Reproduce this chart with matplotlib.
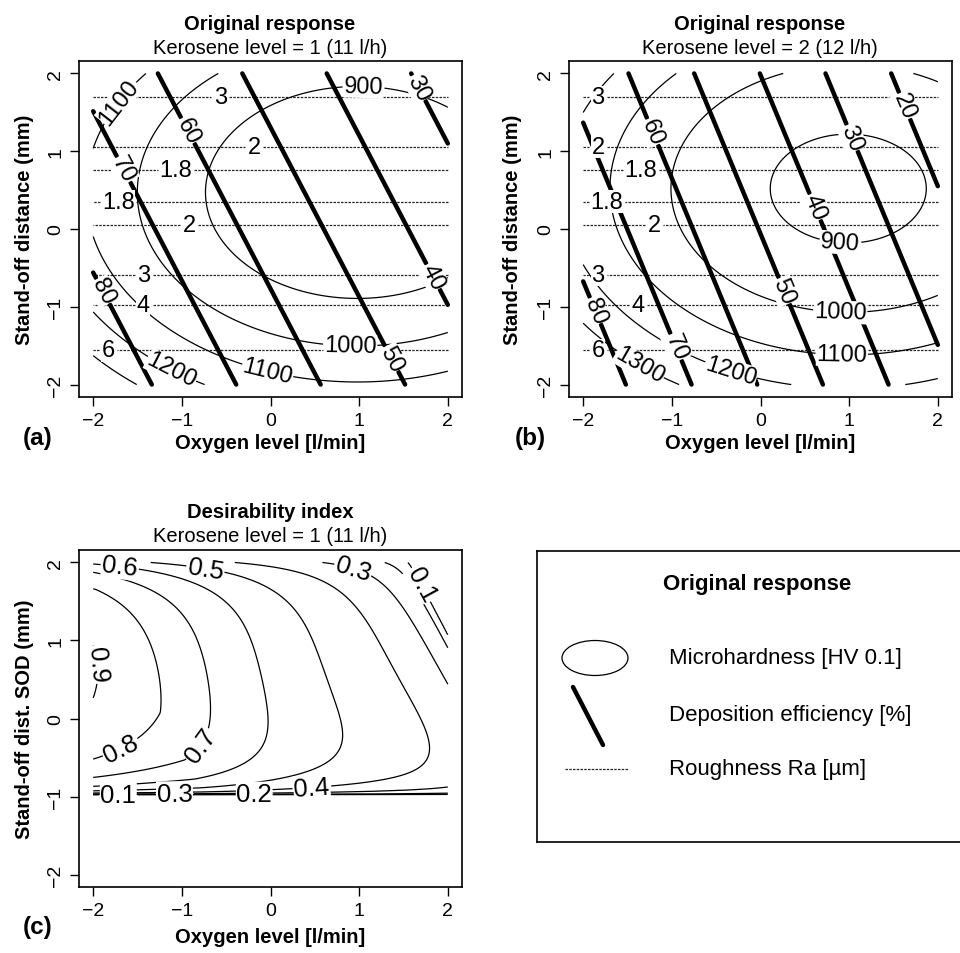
import numpy as np
import matplotlib.pyplot as plt
from matplotlib.patches import Ellipse

plt.rcParams['font.family'] = ['Liberation Sans', 'DejaVu Sans']

# fitted response surfaces, coded units
# microhardness [HV 0.1]: h0 + kx*(x - xc)^2 + ky*(y - yc)^2
hard_k1 = [809.0, 31.0, 49.0, 0.98, 0.47]
hard_k2 = [876.0, 31.0, 49.0, 0.99, 0.52]
# deposition efficiency [%]: a + bx*x + by*y
depo_k1 = [56.3, -10.5, -4.82]
depo_k2 = [49.7, -13.5, -4.90]
# roughness Ra [um]: r0 + ky*(y - yc)^2  (oxygen has no effect)
rough_k = [1.76, 0.95, 0.555]

hard_levels = [900, 1000, 1100, 1200, 1300]
depo_levels = [20, 30, 40, 50, 60, 70, 80]
rough_levels = [1.8, 2, 3, 4, 6]
des_levels = [0.1, 0.2, 0.3, 0.4, 0.5, 0.6, 0.7, 0.8, 0.9]

# desirability limits: [worst, best, exponent]
des_hard = [645.0, 1235.0, 1.0]
des_depo = [30.0, 69.0, 1.0]
des_rough = [3.98, 1.76, 0.7]

ticks = [-2, -1, 0, 1, 2]

# contour label spots (level, x, y)
lab_a_hard = [(1100, -1.71, 1.64), (900, 1.05, 1.81), (1000, 0.9, -1.49),
              (1100, -0.03, -1.83), (1200, -1.1, -1.79)]
lab_a_depo = [(30, 1.65, 1.81), (40, 1.8, -0.63), (50, 1.37, -1.66),
              (60, -0.95, 1.25), (70, -1.61, 0.78), (80, -1.9, -0.8)]
lab_a_rough = [(3, -0.56, 1.68), (2, -0.18, 1.02), (1.8, -1.07, 0.74),
               (1.8, -1.72, 0.33), (2, -0.91, 0.01), (3, -1.44, -0.59),
               (4, -1.44, -1.02), (6, -1.84, -1.57)]
lab_b_hard = [(900, 0.9, -0.16), (1000, 0.9, -1.08), (1100, 0.92, -1.64),
              (1200, -0.34, -1.87), (1300, -1.39, -1.79)]
lab_b_depo = [(20, 1.62, 1.59), (30, 1.02, 1.17), (40, 0.56, 0.27),
              (50, 0.26, -0.8), (60, -1.24, 1.25), (70, -1.0, -1.53),
              (80, -1.9, -1.06)]
lab_b_rough = [(3, -1.84, 1.68), (2, -1.84, 1.02), (1.8, -1.35, 0.74),
               (1.8, -1.73, 0.33), (2, -1.2, 0.01), (3, -1.84, -0.59),
               (4, -1.39, -0.99), (6, -1.84, -1.57)]
lab_c = [(0.6, -1.71, 1.93), (0.5, -0.73, 1.91), (0.3, 0.9, 1.84),
         (0.1, 1.69, 1.71), (0.9, -1.99, 0.69), (0.8, -1.74, -0.3),
         (0.7, -1.01, -0.21), (0.1, -1.72, -1.0), (0.3, -1.08, -0.96),
         (0.2, -0.18, -1.0), (0.4, 0.46, -0.9)]

W, H = 960, 954
fig = plt.figure(figsize=(9.6, 9.54), dpi=100, facecolor='white')


def px_axes(x0, y0, x1, y1):
    return fig.add_axes([x0 / W, 1 - y1 / H, (x1 - x0) / W, (y1 - y0) / H])


def ftext(x, y, s, **kw):
    fig.text(x / W, 1 - y / H, s, ha='center', va='center', **kw)


gx = np.linspace(-2, 2, 241)
X, Y = np.meshgrid(gx, gx)


def hardness(k):
    return k[0] + k[1] * (X - k[3]) ** 2 + k[2] * (Y - k[4]) ** 2


def deposition(k):
    return k[0] + k[1] * X + k[2] * Y


def roughness(k):
    return k[0] + k[1] * (Y - k[2]) ** 2 + 0 * X


def desir(v, lim):
    lo, hi, s = lim
    return np.clip((v - lo) / (hi - lo), 0, 1) ** s


def put_labels(ax, cs, spec, size):
    levs = np.asarray(cs.levels, dtype=float)
    for lev, x, y in spec:
        i = int(np.argmin(np.abs(levs - lev)))
        segs = [s for s in cs.allsegs[i] if len(s)]
        if not segs:
            continue
        pts = np.concatenate(segs)
        j = int(np.argmin((pts[:, 0] - x) ** 2 + (pts[:, 1] - y) ** 2))
        ax.clabel(cs, manual=[tuple(pts[j])], inline=True, colors='black',
                  inline_spacing=3, fontsize=size, fmt='%g')
    for t in cs.labelTexts:
        t.set_bbox(dict(facecolor='white', edgecolor='none', pad=0.3))
        t.set_zorder(6)


def frame(ax):
    ax.set_xlim(-2.16, 2.16)
    ax.set_ylim(-2.16, 2.16)
    ax.set_xticks(ticks)
    ax.set_yticks(ticks)
    ax.tick_params(direction='out', length=6.5, width=1, labelsize=14, pad=4)
    ax.tick_params(axis='y', labelrotation=90)
    for t in ax.get_yticklabels():
        t.set_va('center')
    for sp in ax.spines.values():
        sp.set_linewidth(1.2)


def response_panel(ax, hk, dk, d_levels, lab_h, lab_d, lab_r):
    cr = ax.contour(X, Y, roughness(rough_k), levels=rough_levels,
                    colors='0.15', linewidths=0.9, linestyles=[(0, (2, 1))])
    ch = ax.contour(X, Y, hardness(hk), levels=hard_levels,
                    colors='black', linewidths=0.9)
    cd = ax.contour(X, Y, deposition(dk), levels=d_levels,
                    colors='black', linewidths=3.2)
    cd.set_capstyle('round')
    put_labels(ax, cr, lab_r, 17)
    put_labels(ax, ch, lab_h, 17)
    put_labels(ax, cd, lab_d, 17)
    frame(ax)


ax_a = px_axes(79, 62, 462, 398)
response_panel(ax_a, hard_k1, depo_k1, depo_levels[1:], lab_a_hard, lab_a_depo, lab_a_rough)
ax_b = px_axes(569, 62, 952, 398)
response_panel(ax_b, hard_k2, depo_k2, depo_levels, lab_b_hard, lab_b_depo, lab_b_rough)

# desirability at kerosene level 1
D = (desir(hardness(hard_k1), des_hard) * desir(deposition(depo_k1), des_depo)
     * desir(roughness(rough_k), des_rough)) ** (1 / 3)
ax_c = px_axes(79, 551, 462, 888)
cc = ax_c.contour(X, Y, D, levels=des_levels, colors='black', linewidths=0.9)
put_labels(ax_c, cc, lab_c, 18.5)
frame(ax_c)

# titles and axis labels
for cx, top, bot, t1, t2, yl, tag, tagx, ylx, xly in [
        (270, 62, 398, 'Original response', 'Kerosene level = 1 (11 l/h)',
         'Stand-off distance (mm)', '(a)', 38, 25, 444),
        (760, 62, 398, 'Original response', 'Kerosene level = 2 (12 l/h)',
         'Stand-off distance (mm)', '(b)', 530, 513, 444),
        (270, 551, 888, 'Desirability index', 'Kerosene level = 1 (11 l/h)',
         'Stand-off dist. SOD (mm)', '(c)', 38, 25, 938)]:
    ftext(cx, top - 38, t1, fontsize=14.5, fontweight='bold')
    ftext(cx, top - 14, t2, fontsize=14.5)
    ftext(cx, xly, 'Oxygen level [l/min]', fontsize=14.5, fontweight='bold')
    ftext(tagx, bot + 40, tag, fontsize=17.5, fontweight='bold')
    ftext(ylx, (top + bot) / 2, yl, fontsize=14.5, fontweight='bold', rotation=90)

# legend panel
ax_l = px_axes(537, 552, 1000, 843)
ax_l.set_xlim(537, 1000)
ax_l.set_ylim(843, 552)
ax_l.set_xticks([])
ax_l.set_yticks([])
for sp in ax_l.spines.values():
    sp.set_linewidth(1.2)
ax_l.text(757, 585, 'Original response', ha='center', va='center',
          fontsize=16, fontweight='bold')
ax_l.add_patch(Ellipse((595, 659), 66, 35, fill=False, lw=0.9, ec='black'))
ax_l.plot([573, 603], [688, 746], color='black', lw=3.2, solid_capstyle='round')
ax_l.plot([565, 628], [770, 770], color='0.15', lw=0.9, linestyle=(0, (2, 1)))
ax_l.text(669, 659, 'Microhardness [HV 0.1]', va='center', fontsize=16)
ax_l.text(669, 716, 'Deposition efficiency [%]', va='center', fontsize=16)
ax_l.text(669, 770, 'Roughness Ra [\u00b5m]', va='center', fontsize=16)

fig.savefig('out.png', dpi=100, facecolor='white')
